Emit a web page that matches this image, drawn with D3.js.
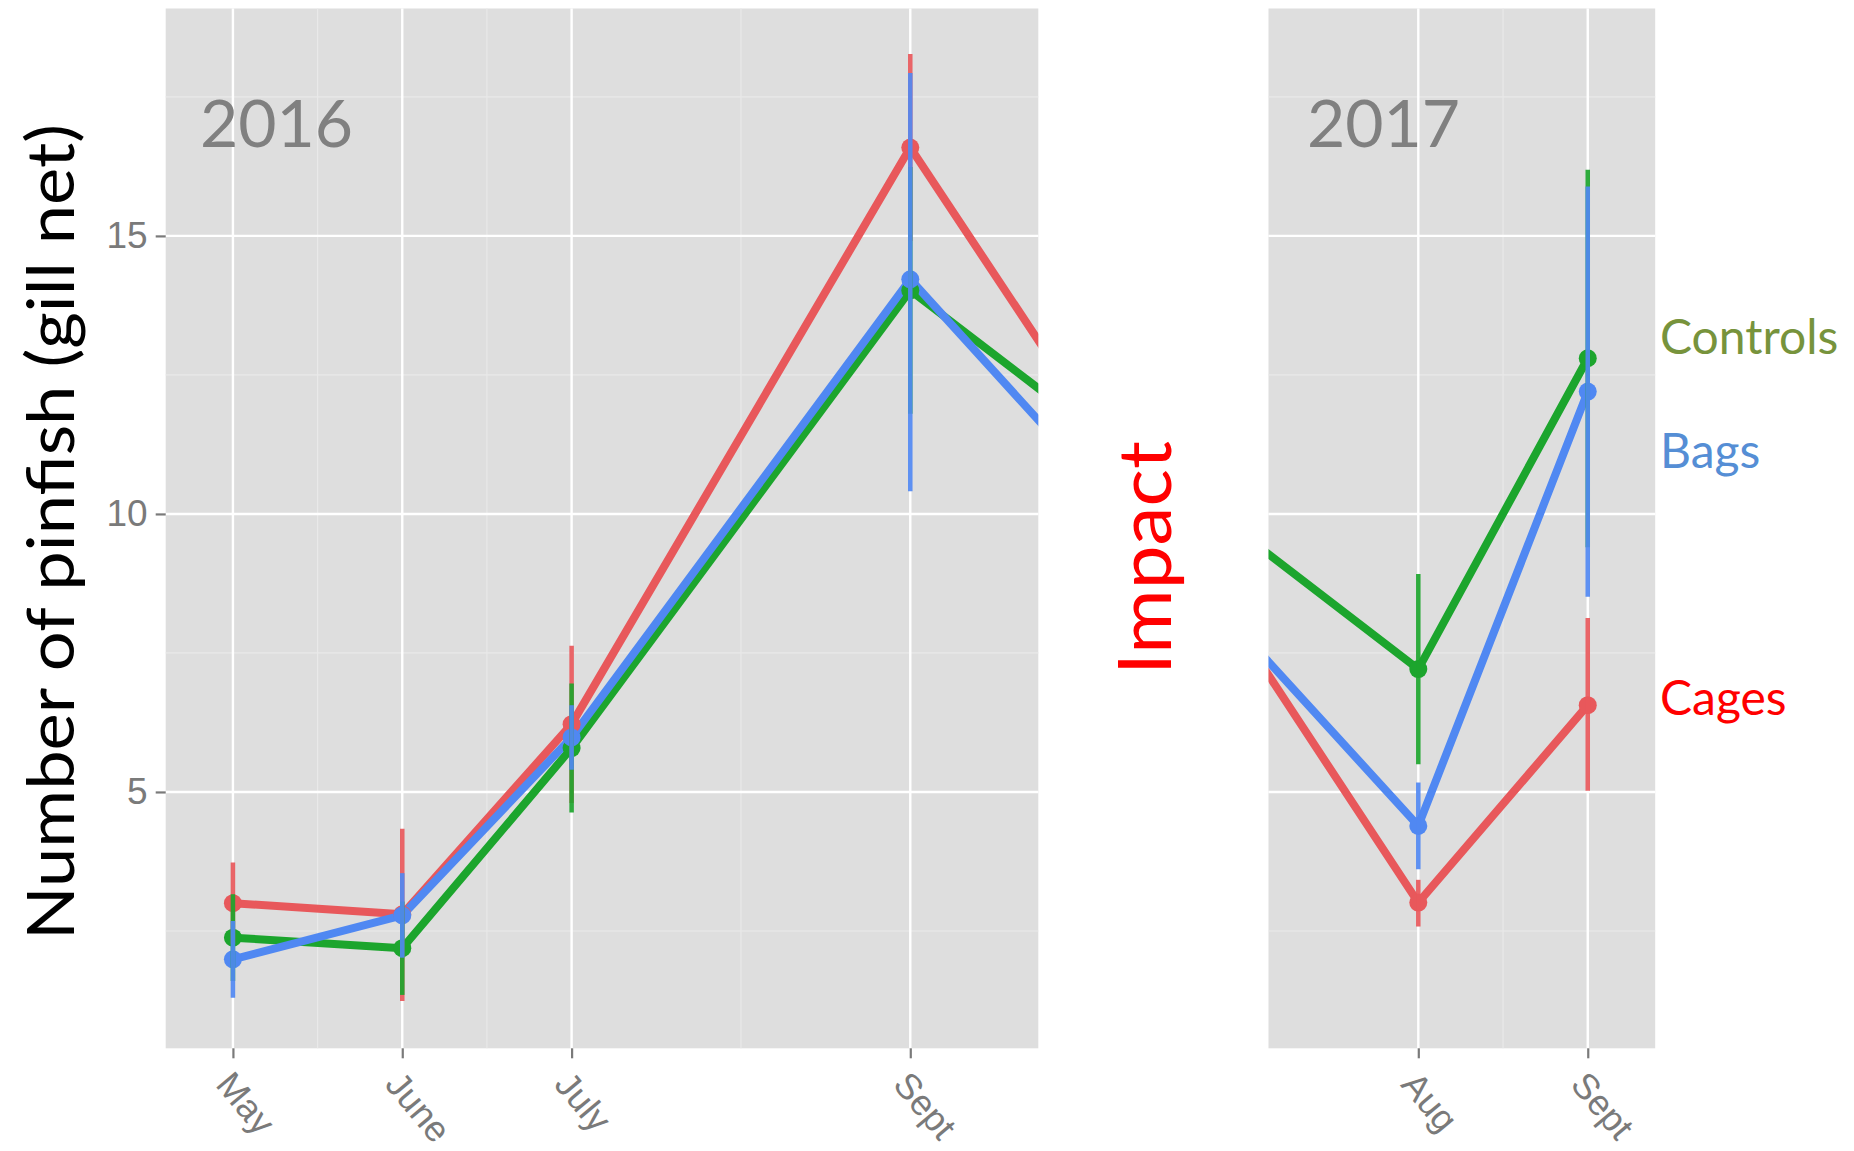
<!DOCTYPE html>
<html>
<head>
<meta charset="utf-8">
<script src="https://cdn.jsdelivr.net/npm/d3@7"></script>
<style>
  body { margin: 0; background: #ffffff; }
  svg { display: block; }
</style>
</head>
<body>
<svg id="chart" width="1854" height="1151"></svg>
<script>
// Number of pinfish per gill net (mean with error bars) by treatment,
// 2016 season on the left, 2017 season on the right.

const yTicks = [5, 10, 15];
const yMinor = [2.5, 7.5, 12.5, 17.5];

// month numbers along each panel (the last/first entry continues past the panel edge)
const months2016 = [5, 6, 7, 9, 10];
const ticks2016 = [5, 6, 7, 9];
const tickLabels2016 = ["May", "June", "July", "Sept"];
const minor2016 = [5.5, 6.5, 8];

const months2017 = [7, 8, 9];
const ticks2017 = [8, 9];
const tickLabels2017 = ["Aug", "Sept"];
const minor2017 = [8.5];

const yearLabels = ["2016", "2017"];
const treatments = ["Cages", "Controls", "Bags"];

const cages2016 = [3.00, 2.80, 6.22, 16.59, 12.00];
const cagesLow2016 = [2.27, 1.24, 4.80, 14.91, null];
const cagesHigh2016 = [3.73, 4.34, 7.63, 18.27, null];
const controls2016 = [2.38, 2.19, 5.79, 14.02, 11.69];
const controlsLow2016 = [1.60, 1.35, 4.63, 11.80, null];
const controlsHigh2016 = [3.16, 3.03, 6.95, 16.24, null];
const bags2016 = [1.99, 2.78, 5.98, 14.22, 10.87];
const bagsLow2016 = [1.30, 2.02, 5.40, 10.41, null];
const bagsHigh2016 = [2.68, 3.54, 6.56, 17.93, null];

const cages2017 = [7.64, 3.01, 6.56];
const cagesLow2017 = [null, 2.58, 5.02];
const cagesHigh2017 = [null, 3.42, 8.13];
const controls2017 = [9.55, 7.21, 12.80];
const controlsLow2017 = [null, 5.50, 9.40];
const controlsHigh2017 = [null, 8.92, 16.19];
const bags2017 = [7.73, 4.39, 12.20];
const bagsLow2017 = [null, 3.61, 8.51];
const bagsHigh2017 = [null, 5.17, 15.89];

const lineColor = { Cages: "#E8585B", Controls: "#1CA52D", Bags: "#5088F2" };
const labelColor = { Controls: "#77933C", Bags: "#558ED5", Cages: "#FF0000" };

const svg = d3.select("#chart");
const panelTop = 8.5, panelBottom = 1048.3;

const y = d3.scaleLinear().domain([0.39, 19.09]).range([panelBottom, panelTop]);

function buildSeries(months, vals, lows, highs) {
  return treatments.map((t, k) => ({
    name: t,
    points: months.map((m, i) => ({ m, v: vals[k][i], lo: lows[k][i], hi: highs[k][i] }))
  }));
}

const series2016 = buildSeries(months2016,
  [cages2016, controls2016, bags2016],
  [cagesLow2016, controlsLow2016, bagsLow2016],
  [cagesHigh2016, controlsHigh2016, bagsHigh2016]);
const series2017 = buildSeries(months2017,
  [cages2017, controls2017, bags2017],
  [cagesLow2017, controlsLow2017, bagsLow2017],
  [cagesHigh2017, controlsHigh2017, bagsHigh2017]);

const axisFont = "'Liberation Sans', Arial, sans-serif";
const axisGrey = "#7a7a7a";

function drawPanel(id, x, series, ticks, labels, minor) {
  const [x0, x1] = x.range();
  const g = svg.append("g");

  g.append("clipPath").attr("id", id)
    .append("rect").attr("x", x0).attr("y", panelTop)
    .attr("width", x1 - x0).attr("height", panelBottom - panelTop);

  g.append("rect").attr("x", x0).attr("y", panelTop)
    .attr("width", x1 - x0).attr("height", panelBottom - panelTop)
    .attr("fill", "#dedede");

  // grid
  g.selectAll(".hminor").data(yMinor).join("line")
    .attr("x1", x0).attr("x2", x1).attr("y1", d => y(d)).attr("y2", d => y(d))
    .attr("stroke", "#e9e9e9").attr("stroke-width", 1.2);
  g.selectAll(".vminor").data(minor).join("line")
    .attr("x1", d => x(d)).attr("x2", d => x(d)).attr("y1", panelTop).attr("y2", panelBottom)
    .attr("stroke", "#e9e9e9").attr("stroke-width", 1.2);
  g.selectAll(".hmajor").data(yTicks).join("line")
    .attr("x1", x0).attr("x2", x1).attr("y1", d => y(d)).attr("y2", d => y(d))
    .attr("stroke", "#ffffff").attr("stroke-width", 2.4);
  g.selectAll(".vmajor").data(ticks).join("line")
    .attr("x1", d => x(d)).attr("x2", d => x(d)).attr("y1", panelTop).attr("y2", panelBottom)
    .attr("stroke", "#ffffff").attr("stroke-width", 2.4);

  const marks = g.append("g").attr("clip-path", `url(#${id})`);
  const line = d3.line().x(d => x(d.m)).y(d => y(d.v));

  marks.selectAll(".trend").data(series).join("path")
    .attr("d", s => line(s.points))
    .attr("fill", "none")
    .attr("stroke", s => lineColor[s.name])
    .attr("stroke-width", 8)
    .attr("stroke-linejoin", "round");

  series.forEach(s => {
    marks.selectAll(null).data(s.points).join("circle")
      .attr("cx", d => x(d.m)).attr("cy", d => y(d.v)).attr("r", 9)
      .attr("fill", lineColor[s.name]);
  });

  series.forEach(s => {
    marks.selectAll(null).data(s.points.filter(d => d.lo != null)).join("line")
      .attr("x1", d => x(d.m)).attr("x2", d => x(d.m))
      .attr("y1", d => y(d.lo)).attr("y2", d => y(d.hi))
      .attr("stroke", lineColor[s.name]).attr("stroke-width", 4.5)
      .attr("stroke-opacity", 0.92);
  });

  // month axis
  const ax = g.append("g").attr("transform", `translate(0,${panelBottom})`)
    .call(d3.axisBottom(x).tickValues(ticks).tickFormat((d, i) => labels[i]).tickSize(10));
  ax.select(".domain").remove();
  ax.selectAll(".tick line").attr("stroke", axisGrey).attr("stroke-width", 2.2);
  ax.selectAll(".tick text")
    .attr("x", 0).attr("y", 0).attr("dy", null)
    .attr("text-anchor", "start")
    .attr("transform", "translate(-19,37) rotate(50)")
    .attr("fill", axisGrey)
    .style("font-family", axisFont)
    .style("font-size", "36px");
  return g;
}

const x2016 = d3.scaleLinear().domain([4.603, 9.756]).range([165.7, 1038.3]);
const x2017 = d3.scaleLinear().domain([7.116, 9.398]).range([1268.5, 1655.2]);

drawPanel("clip2016", x2016, series2016, ticks2016, tickLabels2016, minor2016);
drawPanel("clip2017", x2017, series2017, ticks2017, tickLabels2017, minor2017);

// count axis on the left panel
const ay = svg.append("g").attr("transform", "translate(165.7,0)")
  .call(d3.axisLeft(y).tickValues(yTicks).tickSize(10).tickPadding(8));
ay.select(".domain").remove();
ay.selectAll(".tick line").attr("stroke", axisGrey).attr("stroke-width", 2.2);
ay.selectAll(".tick text")
  .attr("fill", axisGrey)
  .style("font-family", axisFont)
  .style("font-size", "37px");

const noteFont = "Lato, 'Open Sans', sans-serif";

svg.append("text")
  .attr("transform", "translate(74,532) rotate(-90)")
  .attr("text-anchor", "middle")
  .attr("textLength", 816).attr("lengthAdjust", "spacingAndGlyphs")
  .style("font-family", noteFont).style("font-size", "65px").attr("fill", "#000")
  .text("Number of pinfish (gill net)");

const yearX = [200, 1307];
yearLabels.forEach((t, i) => {
  svg.append("text").attr("x", yearX[i]).attr("y", 147)
    .style("font-family", noteFont).style("font-size", "66px").attr("fill", "#808080")
    .text(t);
});

svg.append("text")
  .attr("transform", "translate(1171,558) rotate(-90)")
  .attr("text-anchor", "middle")
  .attr("textLength", 234).attr("lengthAdjust", "spacingAndGlyphs")
  .style("font-family", noteFont).style("font-size", "74px").attr("fill", "#FF0000")
  .text("Impact");

const legendLabels = ["Controls", "Bags", "Cages"];
const legendBaselines = [354, 468, 715];
svg.selectAll(".lab").data(legendLabels).join("text")
  .attr("x", 1660).attr("y", (d, i) => legendBaselines[i])
  .attr("fill", d => labelColor[d])
  .style("font-family", noteFont).style("font-size", "48px")
  .text(d => d);
</script>
</body>
</html>
